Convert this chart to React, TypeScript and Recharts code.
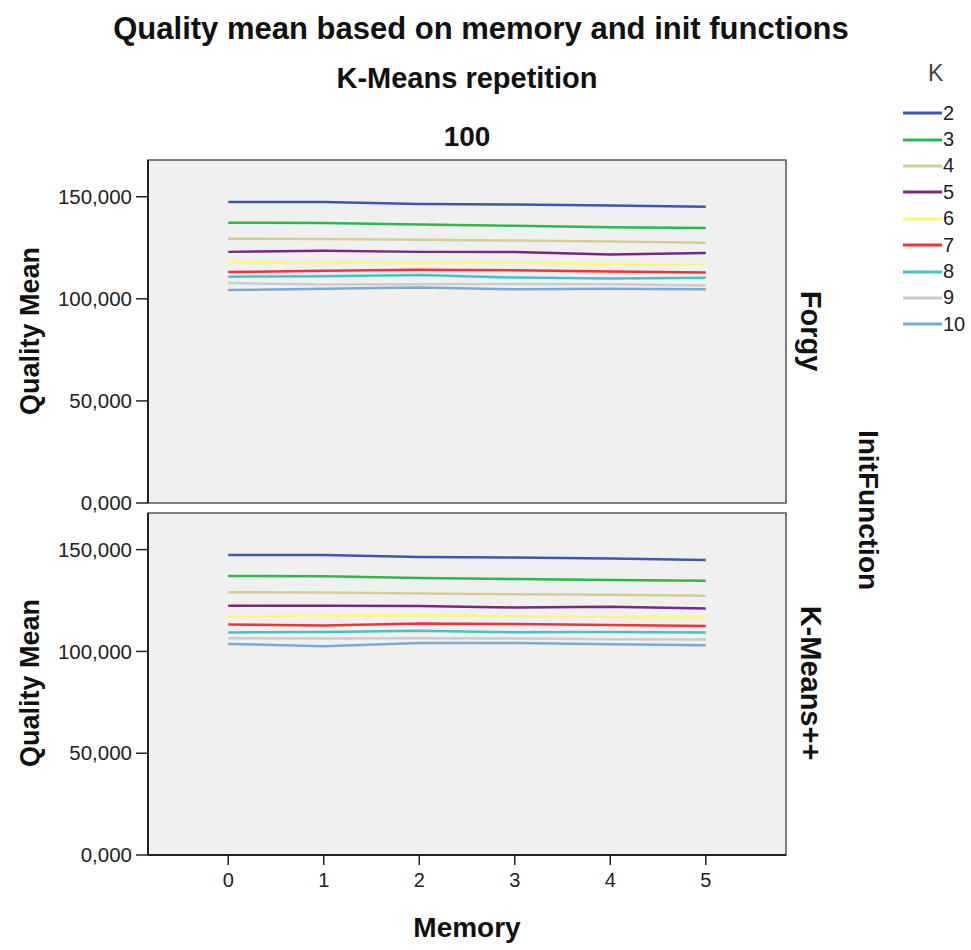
import { CartesianGrid, Line, LineChart, ReferenceArea, XAxis, YAxis } from "recharts";

const memory = [0, 1, 2, 3, 4, 5];
const kValues = [2, 3, 4, 5, 6, 7, 8, 9, 10];
const kColors = ["#3e58ac", "#2eb848", "#d3ce97", "#7c287d", "#fbf873", "#ef3338", "#48c2c5", "#cccccc", "#7aaad5"];
const yTicks = [0, 50, 100, 150];

// one row per K, one value per memory setting
const forgyMeans = [
  [147.4, 147.4, 146.4, 146.2, 145.7, 145.1],
  [137.3, 137.1, 136.4, 135.8, 135.1, 134.7],
  [129.4, 129.3, 128.9, 128.6, 128.1, 127.5],
  [123.0, 123.5, 123.0, 122.9, 121.7, 122.5],
  [118.1, 117.8, 117.5, 117.8, 117.1, 116.8],
  [113.1, 113.7, 114.2, 114.0, 113.4, 112.9],
  [110.8, 111.1, 111.7, 110.4, 109.9, 110.3],
  [107.7, 107.0, 107.2, 107.3, 107.2, 106.5],
  [104.3, 104.9, 105.6, 104.7, 104.9, 104.7],
];

const kmeansPPMeans = [
  [147.4, 147.4, 146.4, 146.1, 145.7, 144.9],
  [137.1, 136.9, 136.1, 135.6, 135.1, 134.7],
  [129.1, 128.9, 128.4, 128.1, 127.8, 127.3],
  [122.4, 122.4, 122.3, 121.6, 122.0, 121.1],
  [117.2, 117.6, 117.8, 117.2, 117.0, 116.7],
  [113.2, 112.7, 113.7, 113.5, 113.0, 112.5],
  [109.3, 109.6, 110.1, 109.4, 109.6, 109.3],
  [106.5, 106.3, 106.5, 106.3, 106.0, 105.8],
  [103.7, 102.6, 104.2, 104.2, 103.5, 103.0],
];

const font = "'Liberation Sans', Arial, sans-serif";
const yDomain: [number, number] = [0, 168];
const xDomain: [number, number] = [-0.84, 5.84];

function buildRows(means: number[][]) {
  return memory.map((m, i) => {
    const row: Record<string, number> = { memory: m };
    kValues.forEach((k, j) => {
      row[`k${k}`] = means[j][i];
    });
    return row;
  });
}

const formatTick = (v: number) => v.toFixed(3).replace(".", ",");

function Txt({ x, y, size, angle = 0, bold = true, color = "#111", children }: any) {
  return (
    <div
      style={{
        position: "absolute",
        left: x,
        top: y,
        transform: `translate(-50%, -50%) rotate(${angle}deg)`,
        fontFamily: font,
        fontSize: size,
        fontWeight: bold ? "bold" : "normal",
        color,
        whiteSpace: "nowrap",
        lineHeight: 1,
      }}
    >
      {children}
    </div>
  );
}

function Panel({ means, showX, height, marginTop, marginBottom }: { means: number[][]; showX: boolean; height: number; marginTop: number; marginBottom: number }) {
  const data = buildRows(means);
  return (
    <LineChart
      width={971}
      height={height}
      data={data}
      margin={{ top: marginTop, right: 185, bottom: marginBottom, left: 0 }}
    >
      <CartesianGrid fill="#f0f0f0" horizontal={false} vertical={false} />
      <ReferenceArea x1={xDomain[0]} x2={xDomain[1]} y1={yDomain[0]} y2={yDomain[1]} fill="none" stroke="#555" strokeWidth={1.5} />
      <XAxis
        dataKey="memory"
        type="number"
        domain={xDomain}
        ticks={memory}
        interval={0}
        hide={!showX}
        height={50}
        tickSize={10}
        tickMargin={8}
        axisLine={{ stroke: "#222", strokeWidth: 2 }}
        tickLine={{ stroke: "#222", strokeWidth: 1.5 }}
        tick={{ fontSize: 20, fill: "#222", fontFamily: font }}
      />
      <YAxis
        type="number"
        domain={yDomain}
        ticks={yTicks}
        interval={0}
        width={148}
        tickSize={12}
        tickMargin={4}
        tickFormatter={formatTick}
        axisLine={{ stroke: "#222", strokeWidth: 2 }}
        tickLine={{ stroke: "#222", strokeWidth: 1.5 }}
        tick={{ fontSize: 20.5, fill: "#222", fontFamily: font }}
      />
      {kValues.map((k, j) => (
        <Line
          key={k}
          dataKey={`k${k}`}
          stroke={kColors[j]}
          strokeWidth={2.5}
          dot={false}
          type="linear"
          isAnimationActive={false}
        />
      ))}
    </LineChart>
  );
}

export default function App() {
  return (
    <div style={{ position: "absolute", left: 0, top: 0, width: 971, height: 950, background: "#fff", overflow: "hidden" }}>
      <div style={{ position: "absolute", left: 0, top: 503 }}>
        <Panel means={kmeansPPMeans} showX={true} height={447} marginTop={10} marginBottom={45} />
      </div>
      <div style={{ position: "absolute", left: 0, top: 0 }}>
        <Panel means={forgyMeans} showX={false} height={522} marginTop={160} marginBottom={19} />
      </div>

      <Txt x={481} y={28} size={31}>Quality mean based on memory and init functions</Txt>
      <Txt x={467} y={78} size={29}>K-Means repetition</Txt>
      <Txt x={467} y={137} size={28}>100</Txt>
      <Txt x={30} y={331} size={27} angle={-90}>Quality Mean</Txt>
      <Txt x={30} y={683} size={27} angle={-90}>Quality Mean</Txt>
      <Txt x={810} y={331} size={29} angle={90}>Forgy</Txt>
      <Txt x={810} y={683} size={29} angle={90}>K-Means++</Txt>
      <Txt x={868} y={510} size={28} angle={90}>InitFunction</Txt>
      <Txt x={467} y={928} size={28}>Memory</Txt>

      <div style={{ position: "absolute", left: 903, top: 62, fontFamily: font }}>
        <div style={{ fontSize: 23, color: "#444", marginLeft: 25, height: 38, lineHeight: "23px" }}>K</div>
        {kValues.map((k, j) => (
          <div key={k} style={{ display: "flex", alignItems: "center", height: 26.4 }}>
            <svg width={39} height={4}>
              <line x1={0} y1={2} x2={39} y2={2} stroke={kColors[j]} strokeWidth={3} />
            </svg>
            <span style={{ fontSize: 20, color: "#222", marginLeft: 1 }}>{k}</span>
          </div>
        ))}
      </div>
    </div>
  );
}
